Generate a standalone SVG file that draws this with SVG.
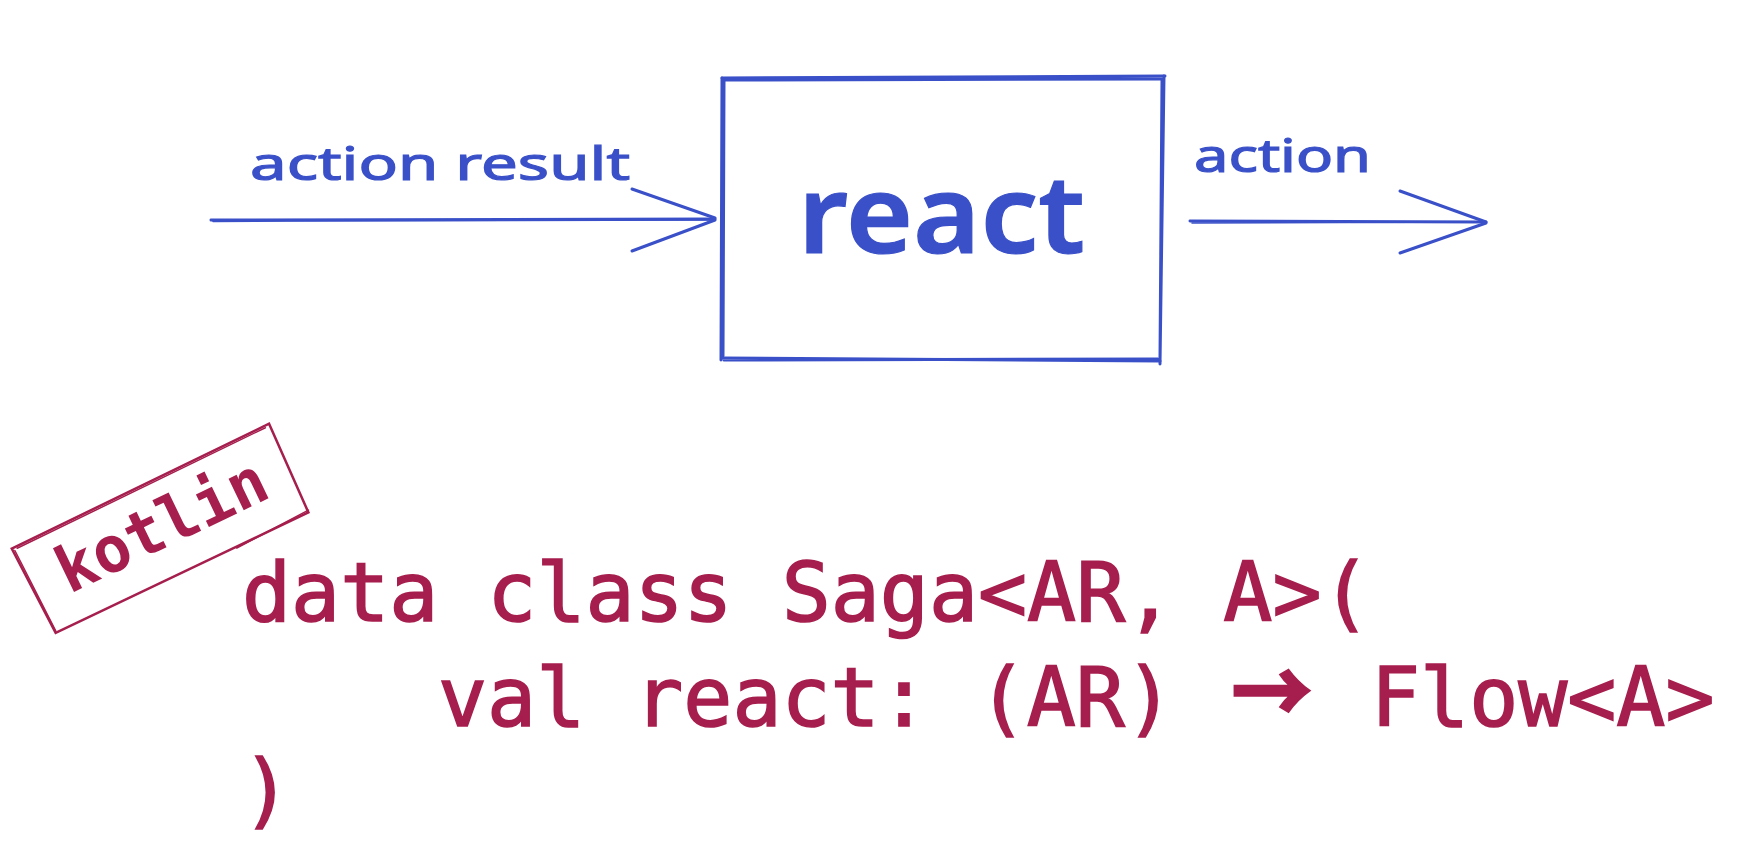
<svg xmlns="http://www.w3.org/2000/svg" width="1739" height="852" viewBox="0 0 1739 852">
<style>
.blue{stroke:#3a50c8;fill:none;stroke-linecap:round;stroke-linejoin:round}
.hand{font-family:"Noto Sans",Lato,sans-serif;fill:#3a50c8;stroke:#3a50c8;stroke-width:1.2px}
.code{font-family:"DejaVu Sans Mono","Liberation Mono",monospace;fill:#a61e4d;stroke:#a61e4d;stroke-width:1.6px;font-size:81.5px}
.ruby{stroke:#a61e4d;fill:none;stroke-linecap:round}
</style>
<rect width="1739" height="852" fill="#ffffff"/>
<g id="connectors">
  <g id="arrow-in">
    <path class="blue" stroke-width="3" d="M211 220 L715 219"/>
    <path class="blue" stroke-width="1.5" d="M213 221.5 C400 220 600 221 713 220"/>
    <path class="blue" stroke-width="3" d="M632 189 L715 218"/>
    <path class="blue" stroke-width="3" d="M632 251 L715 220"/>
  </g>
  <g id="arrow-out">
    <path class="blue" stroke-width="3" d="M1190 221 L1486 222"/>
    <path class="blue" stroke-width="1.5" d="M1192 223 C1300 222 1400 223 1484 222"/>
    <path class="blue" stroke-width="3" d="M1400 191 L1486 222"/>
    <path class="blue" stroke-width="3" d="M1400 253 L1486 223"/>
  </g>
  <text class="hand" x="250" y="180" font-size="46" textLength="380" lengthAdjust="spacingAndGlyphs">action result</text>
  <text class="hand" x="1194" y="172" font-size="46" textLength="177" lengthAdjust="spacingAndGlyphs">action</text>
</g>
<g id="node-react">
  <path class="blue" stroke-width="3" d="M722 78 L1165 76 M723 80 L1163 79"/>
  <path class="blue" stroke-width="3" d="M722 78 L721 360 M724 81 L723 356"/>
  <path class="blue" stroke-width="3" d="M722 358 L1160 361 M724 360 L1158 359"/>
  <path class="blue" stroke-width="3" d="M1164 76 L1160 364 M1162 80 L1160 358"/>
  <text class="hand" x="798" y="253" font-size="108" font-weight="600" textLength="287" lengthAdjust="spacingAndGlyphs">react</text>
</g>
<g id="node-kotlin" transform="translate(161 529) rotate(-25.7)">
  <path class="ruby" stroke-width="2.5" d="M-143 -47 L143 -48 L140 49 L-140 48 Z"/>
  <path class="ruby" stroke-width="1.5" d="M-138 -45 L138 -46 M141 47 L60 50 M-141 -44 L-139 46"/>
  <text x="2" y="19" text-anchor="middle" font-family="'DejaVu Sans Mono','Liberation Mono',monospace" font-size="64" font-weight="bold" fill="#a61e4d" textLength="226" lengthAdjust="spacingAndGlyphs">kotlin</text>
</g>
<g id="code">
  <text class="code" x="242" y="621" xml:space="preserve">data class Saga&lt;AR, A&gt;(</text>
  <text class="code" x="438" y="726" xml:space="preserve">val react: (AR)</text>
  <text x="1231" y="724" font-family="'Noto Sans CJK SC',sans-serif" font-size="88" font-weight="900" fill="#a61e4d" stroke="#a61e4d" stroke-width="1.5" textLength="82" lengthAdjust="spacingAndGlyphs">→</text>
  <text class="code" x="1371" y="726">Flow&lt;A&gt;</text>
  <text class="code" x="242" y="818">)</text>
</g>
</svg>
